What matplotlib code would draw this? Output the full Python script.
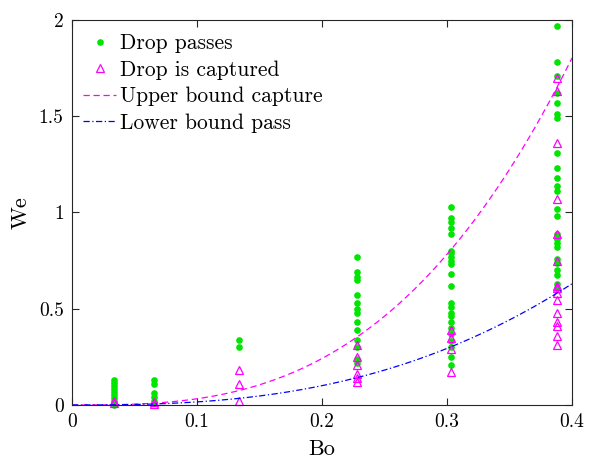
import numpy as np
import matplotlib
matplotlib.use('Agg')
import matplotlib.pyplot as plt

plt.rcParams['font.family'] = 'serif'
plt.rcParams['font.serif'] = ['cmr10']
plt.rcParams['mathtext.fontset'] = 'cm'
plt.rcParams['axes.formatter.use_mathtext'] = True

# Bond number of each experiment series
bo_cols = [0.034, 0.066, 0.134, 0.228, 0.303, 0.388]

# Weber numbers where the drop passes
we_pass = [
    [0.13, 0.115, 0.10, 0.085, 0.07, 0.05, 0.035, 0.02, 0.01, 0.0],
    [0.13, 0.11, 0.06, 0.04, 0.02, 0.01],
    [0.34, 0.30],
    [0.77, 0.69, 0.665, 0.65, 0.57, 0.53, 0.50, 0.48, 0.43, 0.39, 0.34,
     0.30, 0.24, 0.22],
    [1.03, 0.97, 0.95, 0.92, 0.89, 0.80, 0.79, 0.77, 0.75, 0.73, 0.68,
     0.62, 0.53, 0.51, 0.48, 0.46, 0.43, 0.40, 0.37, 0.33, 0.30, 0.25,
     0.21],
    [1.97, 1.78, 1.71, 1.62, 1.57, 1.51, 1.49, 1.31, 1.23, 1.18, 1.14,
     1.11, 1.02, 0.98, 0.89, 0.87, 0.86, 0.84, 0.82, 0.76, 0.74, 0.70,
     0.675, 0.63, 0.61],
]

# Weber numbers where the drop is captured
we_capt = [
    [0.02, 0.01],
    [0.015, 0.005],
    [0.18, 0.11, 0.02],
    [0.31, 0.25, 0.21, 0.16, 0.14, 0.12],
    [0.39, 0.35, 0.29, 0.17],
    [1.70, 1.63, 1.36, 1.07, 0.89, 0.75, 0.62, 0.61, 0.58, 0.545, 0.48,
     0.43, 0.41, 0.36, 0.31],
]

# power-law bounds We = c * Bo^n
upper_c, upper_n = 25.7, 2.9
lower_c, lower_n = 7.14, 2.65

fig = plt.figure(figsize=(5.9, 4.62), dpi=100)
ax = fig.add_axes([0.122, 0.1234, 0.8475, 0.8333])

xp = np.concatenate([[b] * len(v) for b, v in zip(bo_cols, we_pass)])
yp = np.concatenate(we_pass)
xc = np.concatenate([[b] * len(v) for b, v in zip(bo_cols, we_capt)])
yc = np.concatenate(we_capt)

ax.plot(xp, yp, 'o', color='#00e600', markersize=4.8, markeredgewidth=0,
        label='Drop passes', clip_on=False)
ax.plot(xc, yc, '^', color='#ff00ff', markerfacecolor='none', markersize=6,
        markeredgewidth=0.9, label='Drop is captured', clip_on=False)

bo = np.linspace(0, 0.4, 400)
ax.plot(bo, upper_c * bo ** upper_n, '--', color='#ff00ff', lw=0.9,
        dashes=(5, 3), label='Upper bound capture')
ax.plot(bo, lower_c * bo ** lower_n, '-.', color='#0000ff', lw=0.9,
        dashes=(5, 2, 1, 2), label='Lower bound pass')

ax.set_xlim(0, 0.4)
ax.set_ylim(0, 2)
ax.set_xticks([0, 0.1, 0.2, 0.3, 0.4])
ax.set_xticklabels(['0', '0.1', '0.2', '0.3', '0.4'])
ax.set_yticks([0, 0.5, 1, 1.5, 2])
ax.set_yticklabels(['0', '0.5', '1', '1.5', '2'])
ax.tick_params(direction='in', top=True, right=True, labelsize=14,
               length=5, width=0.8, color='#262626', pad=6)
for s in ax.spines.values():
    s.set_color('#262626')
    s.set_linewidth(0.8)

ax.set_xlabel('Bo', fontsize=16, labelpad=6)
ax.set_ylabel('We', fontsize=16, labelpad=6)

leg = ax.legend(loc='upper left', bbox_to_anchor=(0.022, 0.964),
                frameon=False, fontsize=15.5, handlelength=1.55,
                handletextpad=0.15, borderaxespad=0, borderpad=0,
                labelspacing=0.32)

fig.savefig('out.png', dpi=100)
